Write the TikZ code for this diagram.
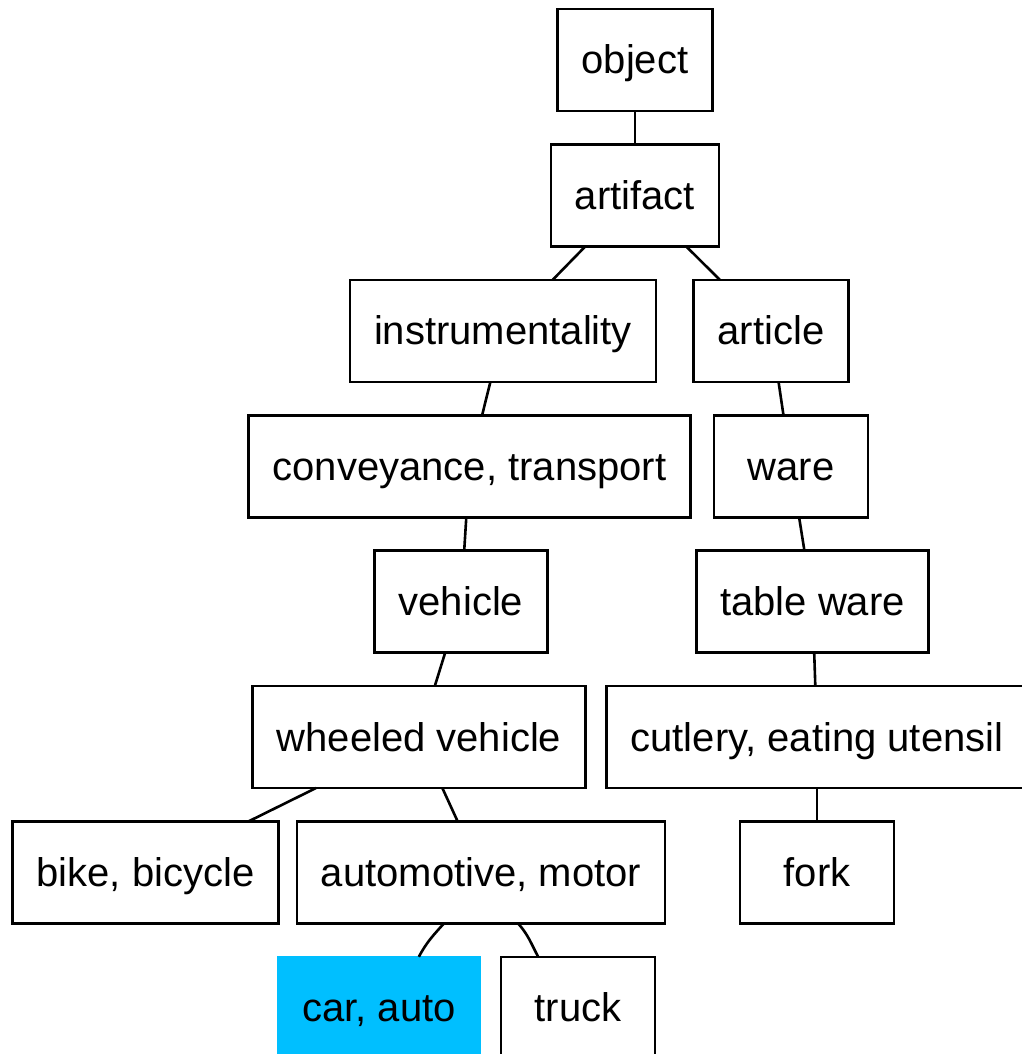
\documentclass[tikz,border=0pt]{standalone}
\usepackage{fontspec}
\setmainfont{Liberation Sans}
\usepackage{tikz}
\usetikzlibrary{positioning}
\definecolor{synsethit}{HTML}{00BFFF}
\tikzset{
  synset/.style={rectangle, draw=black, line width=2.6pt, fill=white, align=center,
                 font=\fontsize{40}{48}\selectfont, minimum width=154pt, minimum height=102pt,
                 inner xsep=24pt, outer sep=0pt, text height=28pt, text depth=0pt},
  hit/.style={synset, draw=synsethit, fill=synsethit},
  link/.style={line width=2.6pt, color=black},
}

\begin{document}
\begin{tikzpicture}[node distance=33.4pt]
\useasboundingbox (0,0) rectangle (1021pt,-1054pt);
\node[synset] (object) at (635pt,-60pt) {object};
\node[synset, below=of object] (artifact) {artifact};
\node[synset, below=of artifact, xshift=-132pt] (instrumentality) {instrumentality};
\node[synset, below=of artifact, xshift=136pt] (article) {article};

\node[synset, below=of instrumentality, xshift=-33.5pt] (conveyance) {conveyance, transport};
\node[synset, below=of article, xshift=20pt] (ware) {ware};
\node[synset, below=of conveyance, xshift=-8.5pt] (vehicle) {vehicle};
\node[synset, below=of ware, xshift=21.5pt] (tableware) {table ware};

\node[synset, below=of vehicle, xshift=-42pt] (wheeled) {wheeled vehicle};
\node[synset, below=of tableware, xshift=4.5pt] (cutlery) {cutlery, eating utensil};
\node[synset, below=of wheeled, xshift=-273.5pt] (bike) {bike, bicycle};
\node[synset, below=of wheeled, xshift=62pt] (automotive) {automotive, motor};
\node[synset, below=of cutlery] (fork) {fork};

\node[hit, below=of automotive, xshift=-102pt] (car) {car, auto};
\node[synset, below=of automotive, xshift=97pt] (truck) {truck};

\draw[link] (object) -- (artifact);
\draw[link] (artifact) -- (instrumentality);
\draw[link] (artifact) -- (article);
\draw[link] (instrumentality) -- (conveyance);
\draw[link] (article) -- (ware);
\draw[link] (conveyance) -- (vehicle);
\draw[link] (ware) -- (tableware);
\draw[link] (vehicle) -- (wheeled);
\draw[link] (tableware) -- (cutlery);
\draw[link] (wheeled) -- (bike);
\draw[link] (wheeled) -- (automotive);
\draw[link] (cutlery) -- (fork);
\draw[link] (automotive.-126) to[out=-132, in=62] (car.52);
\draw[link] (automotive.-54) to[out=-48, in=118] (truck.128);
\end{tikzpicture}
\end{document}
